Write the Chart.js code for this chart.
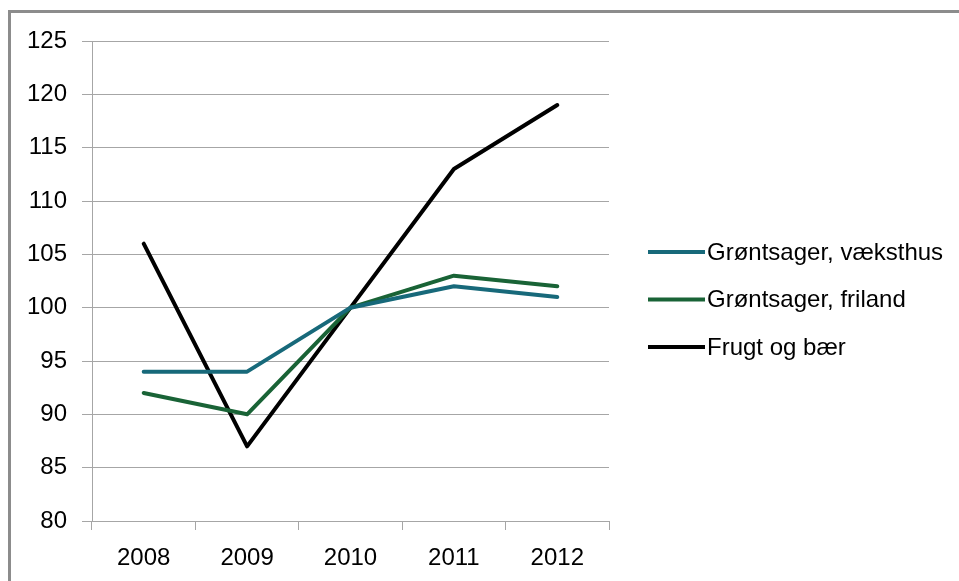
<!DOCTYPE html>
<html>
<head>
<meta charset="utf-8">
<script src="https://cdn.jsdelivr.net/npm/chart.js@4"></script>
<style>
  html, body { margin: 0; padding: 0; background: #fff; overflow: hidden; }
  #wrap { width: 959px; height: 581px; }
</style>
</head>
<body>
<div id="wrap"><canvas id="chart" width="959" height="581"></canvas></div>
<script>
const years = ['2008', '2009', '2010', '2011', '2012'];
const vaeksthus = [94, 94, 100, 102, 101];
const friland = [92, 90, 100, 103, 102];
const frugt = [106, 87, 100, 113, 119];

const FONT = 'Liberation Sans, Arial, sans-serif';
const GRID = '#a6a6a6';

// frame round the chart, like the Excel chart border
const frame = {
    id: 'frame',
    beforeDraw(chart) {
        const c = chart.ctx;
        c.save();
        c.fillStyle = '#8c8c8c';
        c.fillRect(8, 10, 3, 600);
        c.fillRect(8, 10, 1000, 3);
        c.restore();
    }
};

// legend to the right of the plot, line samples + labels
const sideLegend = {
    id: 'sideLegend',
    afterDraw(chart) {
        const c = chart.ctx;
        const area = chart.chartArea;
        const x0 = area.right + 39;
        const mid = (area.top + area.bottom) / 2 + 18.5;
        const sets = chart.data.datasets;
        c.save();
        c.font = '24px ' + FONT;
        c.textBaseline = 'middle';
        c.fillStyle = '#000';
        sets.forEach((ds, i) => {
            const y = mid + (i - (sets.length - 1) / 2) * 47.5;
            c.fillStyle = ds.borderColor;
            c.fillRect(x0, y - 2, 57, 4);
            c.fillStyle = '#000';
            c.fillText(ds.label, x0 + 59, y + 1);
        });
        c.restore();
    }
};

const ctx = document.getElementById('chart').getContext('2d');
const myChart = new Chart(ctx, {
    type: 'line',
    data: {
        labels: years,
        datasets: [{
            label: 'Grøntsager, væksthus',
            data: vaeksthus,
            borderColor: '#17697a',
            backgroundColor: '#17697a'
        }, {
            label: 'Grøntsager, friland',
            data: friland,
            borderColor: '#196336',
            backgroundColor: '#196336'
        }, {
            label: 'Frugt og bær',
            data: frugt,
            borderColor: '#000000',
            backgroundColor: '#000000'
        }]
    },
    options: {
        responsive: false,
        animation: false,
        layout: { padding: { left: 0, top: 41, right: 350, bottom: 0 } },
        elements: {
            line: { borderWidth: 4, tension: 0, borderCapStyle: 'round', borderJoinStyle: 'round' },
            point: { radius: 0 }
        },
        plugins: {
            legend: { display: false },
            tooltip: { enabled: false }
        },
        scales: {
            x: {
                offset: true,
                grid: { offset: true, drawOnChartArea: false, drawTicks: true, tickLength: 9, color: GRID },
                border: { color: GRID },
                ticks: { font: { family: FONT, size: 24 }, color: '#000', padding: 14, maxRotation: 0 },
                afterFit(s) { s.height = 60; }
            },
            y: {
                min: 80,
                max: 125,
                grid: { color: GRID, tickLength: 10 },
                border: { color: GRID },
                ticks: { stepSize: 5, font: { family: FONT, size: 24 }, color: '#000', padding: 15 },
                afterFit(s) { s.width = 92; }
            }
        }
    },
    plugins: [frame, sideLegend]
});
</script>
</body>
</html>
